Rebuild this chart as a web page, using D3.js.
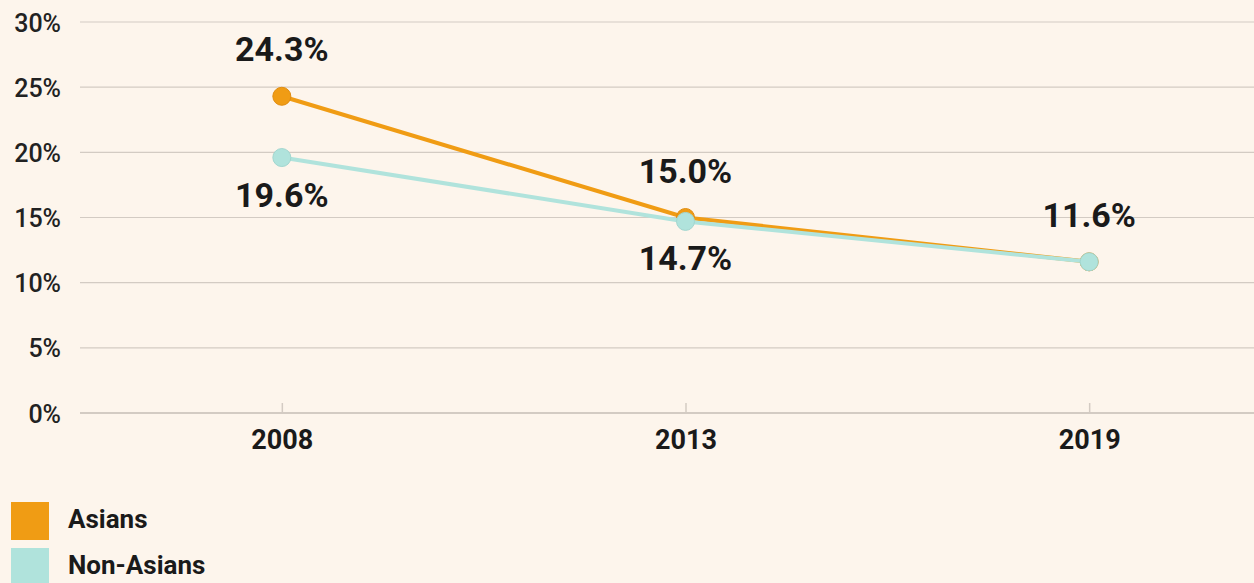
<!DOCTYPE html>
<html>
<head>
<meta charset="utf-8">
<script src="https://cdn.jsdelivr.net/npm/d3@7"></script>
<style>
  body { margin: 0; background: #fdf5ec; }
  svg { display: block; font-family: Roboto, "Noto Sans", sans-serif; }
</style>
</head>
<body>
<div class="chart"></div>
<script>
// datos
var years = ["2008", "2013", "2019"];
var asians = [24.3, 15.0, 11.6];
var nonAsians = [19.6, 14.7, 11.6];
var yTicks = [0, 5, 10, 15, 20, 25, 30];
var seriesNames = ["Asians", "Non-Asians"];
var colors = ["#f09c14", "#b0e3dc"];

var w = 1254, h = 583;

var svg = d3.select(".chart")
  .append("svg")
  .attr("width", w)
  .attr("height", h)
  .style("background", "#fdf5ec");

var x = d3.scalePoint()
  .domain(years)
  .range([80, 1291])
  .padding(0.5);

var y = d3.scaleLinear()
  .domain([0, 30])
  .range([413, 22]);

// rejilla
svg.append("g")
  .selectAll("line")
  .data(yTicks)
  .enter()
  .append("line")
  .attr("x1", 80)
  .attr("x2", w)
  .attr("y1", function(d) { return y(d); })
  .attr("y2", function(d) { return y(d); })
  .attr("stroke", "#d3cbc3")
  .attr("stroke-width", function(d) { return d == 0 ? 2 : 1.2; });

// eje y
var yAxis = svg.append("g")
  .attr("transform", "translate(61,0)")
  .call(d3.axisLeft(y).tickValues(yTicks).tickSize(0).tickPadding(0)
    .tickFormat(function(d) { return d + "%"; }));
yAxis.select(".domain").remove();
yAxis.selectAll("text")
  .attr("font-size", "25")
  .attr("font-weight", "500")
  .attr("font-family", "Roboto, sans-serif")
  .attr("fill", "#222")
  .attr("dy", "0.36em");

// eje x
var xAxis = svg.append("g")
  .attr("transform", "translate(0,413)")
  .call(d3.axisBottom(x).tickSize(-10));
xAxis.select(".domain").remove();
xAxis.selectAll("line").attr("stroke", "#d3cbc3").attr("stroke-width", 1.5);
xAxis.selectAll("text")
  .attr("y", 36)
  .attr("dy", 0)
  .attr("font-size", "27")
  .attr("font-weight", "bold")
  .attr("font-family", "Roboto, sans-serif")
  .attr("fill", "#1a1a1a");

var series = [asians, nonAsians];
var line = d3.line()
  .x(function(d, i) { return x(years[i]); })
  .y(function(d) { return y(d); });

series.forEach(function(vals, s) {
  var g = svg.append("g");
  g.append("path")
    .datum(vals)
    .attr("d", line)
    .attr("fill", "none")
    .attr("stroke", colors[s])
    .attr("stroke-width", 4);
  g.selectAll("circle")
    .data(vals)
    .enter()
    .append("circle")
    .attr("cx", function(d, i) { return x(years[i]); })
    .attr("cy", function(d) { return y(d); })
    .attr("r", 9)
    .attr("fill", colors[s])
    .attr("stroke", s == 0 ? "#e08c10" : "#a2d6cf")
    .attr("stroke-width", 1);
});

// etiquetas de valores
series.forEach(function(vals, s) {
  var other = series[1 - s];
  svg.append("g")
    .selectAll("text")
    .data(vals)
    .enter()
    .filter(function(d, i) { return !(s == 1 && d == other[i]); })
    .append("text")
    .attr("x", function(d, i) { return x(years[i]); })
    .attr("y", function(d, i) { return d >= other[i] ? y(d) - 35 : y(d) + 49; })
    .attr("text-anchor", "middle")
    .attr("font-size", "34")
    .attr("font-weight", "bold")
    .attr("fill", "#1a1a1a")
    .text(function(d) { return d.toFixed(1) + "%"; });
});

// leyenda
var leg = svg.append("g")
  .selectAll("g")
  .data(seriesNames)
  .enter()
  .append("g")
  .attr("transform", function(d, i) { return "translate(11," + (502 + i * 46) + ")"; });
leg.append("rect")
  .attr("width", 38)
  .attr("height", 38)
  .attr("fill", function(d, i) { return colors[i]; });
leg.append("text")
  .attr("x", 57)
  .attr("y", 26)
  .attr("font-size", "26")
  .attr("font-weight", "bold")
  .attr("fill", "#1a1a1a")
  .text(function(d) { return d; });
</script>
</body>
</html>
